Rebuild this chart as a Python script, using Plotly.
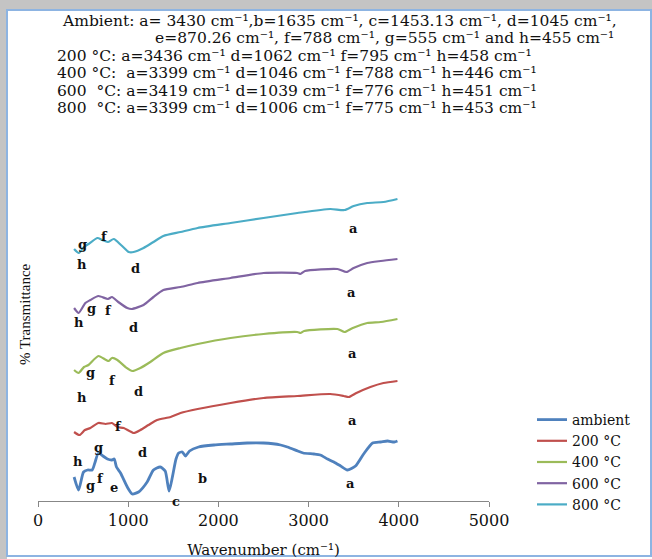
import plotly.graph_objects as go

# ---------------- data (wavenumber in cm-1, relative % transmittance with vertical offsets) -------------
series_names = ["ambient", "200 °C", "400 °C", "600 °C", "800 °C"]
series_colors = ["#4F81BD", "#C0504D", "#9BBB59", "#8064A2", "#4BACC6"]

ambient_x = [400, 450, 505, 550, 600, 630, 670, 720, 770, 820, 845, 870, 915, 990, 1045, 1115, 1210, 1280,
             1355, 1410, 1453, 1490, 1530, 1560, 1600, 1635, 1680, 1780, 1950, 2135, 2320, 2500, 2690, 2765,
             2880, 2940, 3060, 3130, 3210, 3280, 3355, 3430, 3520, 3610, 3710, 3800, 3875, 3950, 3985]
ambient_y = [24, 11, 29, 31, 31, 38, 48, 45, 42, 41, 42, 34, 28, 14, 7, 9, 19, 31,
             34, 30, 10, 24, 42, 48, 49, 45, 50, 54, 56, 57, 58, 58, 56, 54,
             50, 48, 47, 46, 42, 39, 35, 31, 35, 47, 58, 59, 60, 59, 60]

t200_x = [400, 460, 520, 580, 670, 750, 820, 880, 950, 1062, 1135, 1225, 1320, 1470, 1580, 1770, 2135,
          2500, 2875, 3240, 3390, 3445, 3530, 3685, 3830, 3985]
t200_y = [69, 66, 71, 73, 78, 77, 78, 74, 73, 68, 71, 76, 81, 84, 88, 92, 98,
          103, 105, 107, 105, 104, 108, 114, 118, 120]

t400_x = [400, 450, 510, 560, 670, 780, 820, 880, 970, 1046, 1135, 1245, 1390, 1580, 1770, 2135, 2500,
          2875, 2910, 2950, 3320, 3399, 3490, 3650, 3800, 3985]
t400_y = [131, 128, 134, 136, 145, 140, 143, 141, 134, 130, 133, 139, 148, 153, 157, 163, 167,
          169, 168, 170, 172, 169, 173, 178, 179, 182]

t600_x = [400, 451, 525, 580, 670, 776, 820, 890, 990, 1039, 1170, 1280, 1390, 1580, 1770, 2135, 2500,
          2875, 2910, 2960, 3320, 3419, 3500, 3650, 3800, 3985]
t600_y = [193, 188, 198, 201, 205, 202, 204, 199, 193, 192, 196, 204, 211, 214, 218, 223, 228,
          228, 227, 230, 232, 229, 233, 238, 240, 242]

t800_x = [400, 453, 510, 560, 660, 710, 775, 840, 920, 990, 1006, 1060, 1170, 1280, 1390, 1580, 1770,
          2135, 2500, 2875, 3240, 3399, 3500, 3650, 3830, 3985]
t800_y = [252, 248, 254, 257, 263, 261, 259, 262, 256, 250, 249, 249, 253, 259, 265, 269, 273,
          278, 283, 288, 292, 291, 295, 298, 299, 302]

# peak letters: (letter, wavenumber, y)
peak_labels = [
    ("g", 493, 257), ("f", 737, 265), ("h", 493, 237), ("d", 1080, 233), ("a", 3493, 273),
    ("g", 593, 193), ("f", 782, 191), ("h", 449, 179), ("d", 1058, 174), ("a", 3471, 209),
    ("g", 582, 129), ("f", 826, 121), ("h", 493, 104), ("d", 1114, 110), ("a", 3482, 148),
    ("f", 892, 75), ("a", 3482, 81),
    ("g", 671, 54), ("h", 438, 40), ("d", 1164, 49), ("f", 693, 23), ("g", 582, 16), ("e", 837, 14),
    ("b", 1825, 23), ("a", 3460, 18), ("c", 1525, 0), ("h", 327, -4), ("d", 1114, -6),
]

header_lines = [
    "Ambient: a= 3430 cm⁻¹,b=1635 cm⁻¹, c=1453.13 cm⁻¹, d=1045 cm⁻¹,",
    "e=870.26 cm⁻¹, f=788 cm⁻¹, g=555 cm⁻¹ and h=455 cm⁻¹",
    "200 °C: a=3436 cm⁻¹ d=1062 cm⁻¹ f=795 cm⁻¹ h=458 cm⁻¹",
    "400 °C:  a=3399 cm⁻¹ d=1046 cm⁻¹ f=788 cm⁻¹ h=446 cm⁻¹",
    "600  °C: a=3419 cm⁻¹ d=1039 cm⁻¹ f=776 cm⁻¹ h=451 cm⁻¹",
    "800  °C: a=3399 cm⁻¹ d=1006 cm⁻¹ f=775 cm⁻¹ h=453 cm⁻¹",
]

x_ticks = [0, 1000, 2000, 3000, 4000, 5000]

# ---------------- layout geometry -------------
W, H = 652, 559
ML, MR, MT, MB = 38, 163, 170, 58
PW = W - ML - MR
PH = H - MT - MB
SERIF = "Liberation Serif, Times New Roman, serif"
WIDE = "DejaVu Serif, serif"


def px_x(px):
    return (px - ML) / PW


def px_y(py):
    return (H - MB - py) / PH


fig = go.Figure()
xs = [ambient_x, t200_x, t400_x, t600_x, t800_x]
ys = [ambient_y, t200_y, t400_y, t600_y, t800_y]
widths = [2.8, 2.2, 2.2, 2.2, 2.2]
for name, col, x, y, w in zip(series_names, series_colors, xs, ys, widths):
    fig.add_trace(go.Scatter(x=x, y=y, mode="lines", name=name,
                             line=dict(color=col, width=w, shape="spline", smoothing=0.6)))

annotations = []
for letter, wx, wy in peak_labels:
    annotations.append(dict(x=wx, y=wy, xref="x", yref="y", text=letter, showarrow=False,
                            font=dict(family=WIDE, size=13, color="#111", weight="bold")))

header_pos = [(60, 21), (153, 38), (55, 56), (55, 73), (55, 91), (55, 108)]
for txt, (hx, hy) in zip(header_lines, header_pos):
    annotations.append(dict(x=px_x(hx), y=px_y(hy), xref="paper", yref="paper", text=txt,
                            showarrow=False, xanchor="left", yanchor="middle",
                            font=dict(family=WIDE, size=15.5, color="#111")))

annotations.append(dict(x=px_x(25), y=px_y(314), xref="paper", yref="paper", text="% Transmittance",
                        textangle=-90, showarrow=False, xanchor="center", yanchor="middle",
                        font=dict(family=SERIF, size=15, color="#111")))

shapes = [
    dict(type="rect", xref="paper", yref="paper", x0=px_x(0), x1=px_x(W), y0=px_y(10), y1=px_y(0),
         fillcolor="#c4c4c4", line=dict(width=0), layer="below"),
    dict(type="rect", xref="paper", yref="paper", x0=px_x(0), x1=px_x(7), y0=px_y(H), y1=px_y(0),
         fillcolor="#c4c4c4", line=dict(width=0), layer="below"),
    dict(type="rect", xref="paper", yref="paper", x0=px_x(7), x1=px_x(651), y0=px_y(556), y1=px_y(10),
         fillcolor="rgba(0,0,0,0)", line=dict(color="#8DB4E2", width=2)),
]

fig.update_layout(
    width=W, height=H,
    margin=dict(l=ML, r=MR, t=MT, b=MB, autoexpand=False),
    paper_bgcolor="white", plot_bgcolor="white",
    font=dict(family=WIDE, color="#111"),
    showlegend=True,
    legend=dict(x=px_x(532), y=px_y(404), xanchor="left", yanchor="top",
                font=dict(family=WIDE, size=14, color="#111"), tracegroupgap=0,
                bgcolor="rgba(0,0,0,0)"),
    xaxis=dict(range=[0, 5000], tickvals=x_ticks, ticktext=[str(v) for v in x_ticks],
               showline=True, linecolor="#878787", linewidth=1, ticks="outside", ticklen=5,
               tickcolor="#878787", showgrid=False, zeroline=False,
               tickfont=dict(family=WIDE, size=16, color="#111"),
               title=dict(text="Wavenumber (cm⁻¹)", font=dict(family=WIDE, size=15, color="#111"),
                          standoff=15)),
    yaxis=dict(range=[0, PH], showline=False, showgrid=False, zeroline=False, showticklabels=False,
               ticks=""),
    annotations=annotations,
    shapes=shapes,
)

fig.write_html("out.html", config={"displayModeBar": False},
               post_script="document.body.style.margin='0';document.body.style.overflow='hidden';")
